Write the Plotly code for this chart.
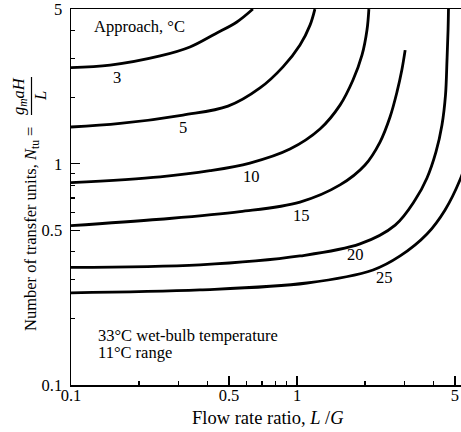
import math
import plotly.graph_objects as go

# ---- data ----
x_3 = [0.1, 0.149, 0.248, 0.336, 0.434, 0.542, 0.638]
y_3 = [2.72, 2.79, 3.07, 3.37, 3.86, 4.37, 5.0]

x_5 = [0.1, 0.165, 0.313, 0.495, 0.686, 0.867, 1.031, 1.142, 1.20]
y_5 = [1.465, 1.52, 1.66, 1.82, 2.20, 2.74, 3.44, 4.23, 5.0]

x_10 = [0.1, 0.248, 0.412, 0.619, 0.931, 1.264, 1.55, 1.769, 1.94, 2.04, 2.08]
y_10 = [0.821, 0.873, 0.930, 1.007, 1.165, 1.435, 1.84, 2.39, 3.10, 4.02, 5.0]

x_15 = [0.1, 0.248, 0.56, 1.031, 1.55, 2.0, 2.33, 2.58, 2.77, 2.91, 3.01]
y_15 = [0.525, 0.561, 0.607, 0.671, 0.802, 0.987, 1.253, 1.626, 2.11, 2.65, 3.26]

x_20 = [0.1, 0.372, 1.031, 1.90, 2.72, 3.33, 3.76, 4.12, 4.38, 4.54, 4.61, 4.66, 4.68]
y_20 = [0.340, 0.349, 0.383, 0.434, 0.528, 0.685, 0.862, 1.13, 1.496, 2.04, 2.94, 4.02, 5.0]

x_25 = [0.1, 0.372, 1.107, 2.17, 2.86, 3.76, 4.52, 5.26, 5.83]
y_25 = [0.261, 0.269, 0.289, 0.331, 0.383, 0.481, 0.618, 0.844, 1.153]

approach_labels = ["3", "5", "10", "15", "20", "25"]
label_x = [0.160, 0.313, 0.626, 1.052, 1.806, 2.45]
label_y = [2.46, 1.465, 0.871, 0.586, 0.387, 0.305]

tick_vals = [0.1, 0.5, 1, 5]
tick_text = ["0.1", "0.5", "1", "5"]
minor_vals = [0.2, 0.3, 0.4, 0.6, 0.7, 0.8, 0.9, 2, 3, 4]

FONT = "Liberation Serif"
FS = 16.5

fig = go.Figure()
series = [(x_3, y_3), (x_5, y_5), (x_10, y_10), (x_15, y_15), (x_20, y_20), (x_25, y_25)]
for xs, ys in series:
    fig.add_trace(go.Scatter(x=xs, y=ys, mode="lines",
                             line=dict(color="black", width=2.8, shape="spline", smoothing=1.0),
                             showlegend=False, hoverinfo="skip"))

# annotations on log axes take log10 positions
for t, lx, ly in zip(approach_labels, label_x, label_y):
    fig.add_annotation(x=math.log10(lx), y=math.log10(ly), xref="x", yref="y", text=t,
                       showarrow=False,
                       font=dict(family=FONT, size=FS, color="black"),
                       xanchor="center", yanchor="middle")

W, H = 461, 432
L, R, T, B = 71, 0, 9, 47
pw, ph = W - L - R, H - T - B

def px(p):
    return (p - L) / pw

def py(p):
    return (H - B - p) / ph

fig.add_annotation(x=px(92), y=py(26), xref="paper", yref="paper", text="Approach, °C",
                   showarrow=False, xanchor="left", yanchor="middle",
                   font=dict(family=FONT, size=FS, color="black"))
fig.add_annotation(x=px(96), y=py(335), xref="paper", yref="paper",
                   text="33°C wet-bulb temperature",
                   showarrow=False, xanchor="left", yanchor="middle",
                   font=dict(family=FONT, size=FS, color="black"))
fig.add_annotation(x=px(96), y=py(352), xref="paper", yref="paper",
                   text="11°C range",
                   showarrow=False, xanchor="left", yanchor="middle",
                   font=dict(family=FONT, size=FS, color="black"))

# x-axis title
fig.add_annotation(x=px(268), y=py(418), xref="paper", yref="paper",
                   text="Flow rate ratio, <i>L</i> /<i>G</i>",
                   showarrow=False, xanchor="center", yanchor="middle",
                   font=dict(family=FONT, size=18.5, color="black"))

# y-axis title (with fraction)
fig.add_annotation(x=px(31), y=py(229), xref="paper", yref="paper",
                   text="Number of transfer units, <i>N</i><sub>tu</sub> =",
                   textangle=-90, showarrow=False, xanchor="center", yanchor="middle",
                   font=dict(family=FONT, size=FS, color="black"))
fig.add_annotation(x=px(19), y=py(96), xref="paper", yref="paper",
                   text="<i>g</i><sub><i>m</i></sub><i>aH</i>",
                   textangle=-90, showarrow=False, xanchor="center", yanchor="middle",
                   font=dict(family=FONT, size=FS, color="black"))
fig.add_annotation(x=px(40), y=py(96), xref="paper", yref="paper",
                   text="<i>L</i>",
                   textangle=-90, showarrow=False, xanchor="center", yanchor="middle",
                   font=dict(family=FONT, size=FS, color="black"))
fig.add_shape(type="line", xref="paper", yref="paper",
              x0=px(31.5), x1=px(31.5), y0=py(77), y1=py(115),
              line=dict(color="black", width=1.2))

axis_common = dict(type="log", showgrid=False, zeroline=False,
                   showline=True, linecolor="black", linewidth=1.5,
                   ticks="inside", ticklen=9, tickwidth=1.3, tickcolor="black",
                   tickmode="array", tickvals=tick_vals, ticktext=tick_text,
                   tickfont=dict(family=FONT, size=FS, color="black"),
                   ticklabeloverflow="allow",
                   minor=dict(ticks="inside", ticklen=4, tickwidth=1.1, tickcolor="black",
                              tickmode="array", tickvals=minor_vals, showgrid=False),
                   automargin=False)

fig.update_layout(
    width=W, height=H,
    margin=dict(l=L, r=R, t=T, b=B, pad=0),
    paper_bgcolor="white", plot_bgcolor="white",
    xaxis=dict(range=[-1, -1 + pw / 226.0], mirror=True, ticklabelstandoff=-5, **axis_common),
    yaxis=dict(range=[-1, 0.6992], mirror=False, ticklabelstandoff=4, **axis_common),
    showlegend=False,
)

fig.write_html("out.html", config={"displayModeBar": False, "staticPlot": True},
               post_script="document.body.style.margin='0';document.body.style.padding='0';")
